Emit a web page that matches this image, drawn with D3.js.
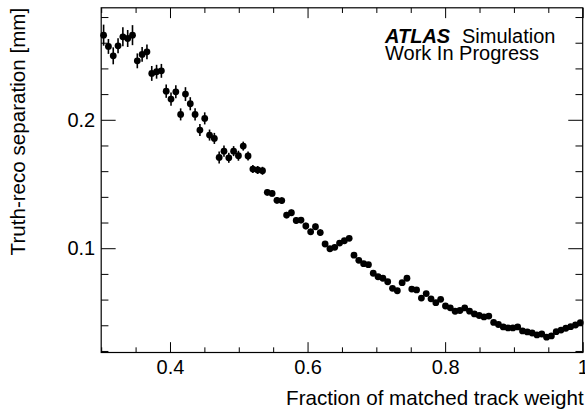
<!DOCTYPE html>
<html>
<head>
<meta charset="utf-8">
<script src="https://cdn.jsdelivr.net/npm/d3@7"></script>
<style>
  html, body { margin: 0; padding: 0; background: #fff; }
  svg { display: block; font-family: "Liberation Sans", Arial, Helvetica, sans-serif; }
</style>
</head>
<body>
<svg id="chart" width="585" height="413"></svg>
<script>
// ---- data ----
const binStart = 0.3;
const binWidth = 0.007;
const separation = [
  0.2659, 0.2571, 0.2498, 0.2576, 0.2646, 0.2633, 0.2659, 0.2459, 0.2509, 0.2529,
  0.2361, 0.2374, 0.2381, 0.2223, 0.2161, 0.2218, 0.2042, 0.2200, 0.2125, 0.2042,
  0.1920, 0.2011, 0.1881, 0.1855, 0.1707, 0.1756, 0.1704, 0.1756, 0.1720, 0.1795,
  0.1718, 0.1616, 0.1609, 0.1603, 0.1435, 0.1427, 0.1373, 0.1371, 0.1258, 0.1276,
  0.1216, 0.1219, 0.1173, 0.1128, 0.1167, 0.1122, 0.1033, 0.0996, 0.1007, 0.1040,
  0.1058, 0.1077, 0.0946, 0.0906, 0.0880, 0.0872, 0.0805, 0.0778, 0.0766, 0.0739,
  0.0688, 0.0669, 0.0732, 0.0766, 0.0682, 0.0675, 0.0612, 0.0647, 0.0606, 0.0576,
  0.0602, 0.0550, 0.0536, 0.0509, 0.0515, 0.0535, 0.0510, 0.0488, 0.0476, 0.0465,
  0.0472, 0.0422, 0.0406, 0.0387, 0.0379, 0.0379, 0.0387, 0.0356, 0.0348, 0.0340,
  0.0325, 0.0332, 0.0307, 0.0317, 0.0350, 0.0363, 0.0377, 0.0389, 0.0402, 0.0420
];
const separationErr = [
  0.0082, 0.0058, 0.0066, 0.0058, 0.0074, 0.0066, 0.0078, 0.0058, 0.0058, 0.0058,
  0.0058, 0.0054, 0.0054, 0.0052, 0.0051, 0.0051, 0.0047, 0.0054, 0.0051, 0.0047,
  0.0047, 0.0047, 0.0043, 0.0043, 0.0047, 0.0043, 0.0039, 0.0039, 0.0039, 0.0035,
  0.0035, 0.0031, 0.0031, 0.0031, 0.0025, 0.0025, 0.0025, 0.0025, 0.0025, 0.0025,
  0.0025, 0.0025, 0.0025, 0.0025, 0.0025, 0.0025, 0.0020, 0.0020, 0.0020, 0.0020,
  0.0020, 0.0020, 0.0020, 0.0020, 0.0020, 0.0020, 0.0020, 0.0020, 0.0020, 0.0020,
  0.0015, 0.0015, 0.0015, 0.0015, 0.0015, 0.0015, 0.0015, 0.0015, 0.0015, 0.0015,
  0.0015, 0.0015, 0.0015, 0.0015, 0.0015, 0.0015, 0.0015, 0.0015, 0.0015, 0.0015,
  0.0015, 0.0015, 0.0015, 0.0015, 0.0015, 0.0015, 0.0015, 0.0015, 0.0015, 0.0015,
  0.0015, 0.0015, 0.0015, 0.0015, 0.0015, 0.0015, 0.0015, 0.0015, 0.0015, 0.0015
];
const xMajorTicks = [0.4, 0.6, 0.8, 1.0];
const xTickLabels = ["0.4", "0.6", "0.8", "1"];
const yMajorTicks = [0.1, 0.2];
const yTickLabels = ["0.1", "0.2"];
const xDomain = [0.3, 1.0];
const yDomain = [0.0188, 0.2872];
const xTitle = "Fraction of matched track weight";
const yTitle = "Truth-reco separation [mm]";

// ---- layout ----
const FS = 20;
const FT = 20.6;
const frame = { left: 101.2, right: 582.7, top: 7.8, bottom: 352.5 };
const svg = d3.select("#chart");
const x = d3.scaleLinear().domain(xDomain).range([frame.left, frame.right]);
const y = d3.scaleLinear().domain(yDomain).range([frame.bottom, frame.top]);

const points = separation.map((v, i) => ({
  x: binStart + binWidth * (i + 0.5), y: v, e: separationErr[i]
}));

const W = frame.right - frame.left, H = frame.bottom - frame.top;
const xMajLen = 0.03 * H, xMinLen = xMajLen / 2;
const yMajLen = 0.03 * W, yMinLen = yMajLen / 2;

const xMinor = d3.range(0.3, 1.0001, 0.05).map(d => +d.toFixed(3)).filter(d => !xMajorTicks.some(m => Math.abs(m - d) < 1e-6));
const yMinor = d3.range(0.02, 0.2801, 0.02).map(d => +d.toFixed(3)).filter(d => !yMajorTicks.some(m => Math.abs(m - d) < 1e-6));

const g = svg.append("g");

function xAxisAt(ypos, dir, ticks, len, withLabels) {
  const ax = (dir > 0 ? d3.axisBottom(x) : d3.axisTop(x))
    .tickValues(ticks).tickSizeInner(-len).tickSizeOuter(0)
    .tickFormat(withLabels ? ((d) => xTickLabels[xMajorTicks.findIndex(m => Math.abs(m - d) < 1e-6)]) : () => "");
  const a = g.append("g").attr("transform", `translate(0,${ypos})`).call(ax);
  a.select(".domain").remove();
  a.selectAll(".tick line").attr("stroke", "#000").attr("stroke-width", 1);
  a.selectAll(".tick text").attr("fill", "#000").attr("font-size", FS)
    .attr("font-family", '"Liberation Sans", Arial, sans-serif').attr("dy", null).attr("y", 21.5);
  return a;
}
function yAxisAt(xpos, dir, ticks, len, withLabels) {
  const ax = (dir < 0 ? d3.axisLeft(y) : d3.axisRight(y))
    .tickValues(ticks).tickSizeInner(-len).tickSizeOuter(0)
    .tickFormat(withLabels ? ((d) => yTickLabels[yMajorTicks.findIndex(m => Math.abs(m - d) < 1e-6)]) : () => "");
  const a = g.append("g").attr("transform", `translate(${xpos},0)`).call(ax);
  a.select(".domain").remove();
  a.selectAll(".tick line").attr("stroke", "#000").attr("stroke-width", 1);
  a.selectAll(".tick text").attr("fill", "#000").attr("font-size", FS)
    .attr("font-family", '"Liberation Sans", Arial, sans-serif').attr("x", -6);
  return a;
}

xAxisAt(frame.bottom, 1, xMajorTicks, xMajLen, true);
xAxisAt(frame.bottom, 1, xMinor, xMinLen, false);
xAxisAt(frame.top, -1, xMajorTicks, xMajLen, false);
xAxisAt(frame.top, -1, xMinor, xMinLen, false);
yAxisAt(frame.left, -1, yMajorTicks, yMajLen, true);
yAxisAt(frame.left, -1, yMinor, yMinLen, false);
yAxisAt(frame.right, 1, yMajorTicks, yMajLen, false);
yAxisAt(frame.right, 1, yMinor, yMinLen, false);

g.append("rect")
  .attr("x", frame.left).attr("y", frame.top)
  .attr("width", W).attr("height", H)
  .attr("fill", "none").attr("stroke", "#000").attr("stroke-width", 1.2);

g.append("g").selectAll("line").data(points).join("line")
  .attr("x1", d => x(d.x)).attr("x2", d => x(d.x))
  .attr("y1", d => y(d.y - d.e)).attr("y2", d => y(d.y + d.e))
  .attr("stroke", "#000").attr("stroke-width", 1.6);

g.append("g").selectAll("circle").data(points).join("circle")
  .attr("cx", d => x(d.x)).attr("cy", d => y(d.y)).attr("r", 3.4)
  .attr("fill", "#000");

svg.append("text")
  .attr("x", frame.right + 1).attr("y", 405)
  .attr("text-anchor", "end").attr("font-size", FT).attr("fill", "#000")
  .text(xTitle);
svg.append("text")
  .attr("transform", `translate(25,${frame.top}) rotate(-90)`)
  .attr("text-anchor", "end").attr("font-size", FT).attr("fill", "#000")
  .text(yTitle);

const lab = svg.append("text").attr("x", 385).attr("y", 43).attr("font-size", FS).attr("fill", "#000");
lab.append("tspan").attr("font-weight", "bold").attr("font-style", "italic").text("ATLAS");
lab.append("tspan").attr("x", 462).text("Simulation");
svg.append("text").attr("x", 385).attr("y", 60).attr("font-size", FS).attr("fill", "#000")
  .text("Work In Progress");
</script>
</body>
</html>
